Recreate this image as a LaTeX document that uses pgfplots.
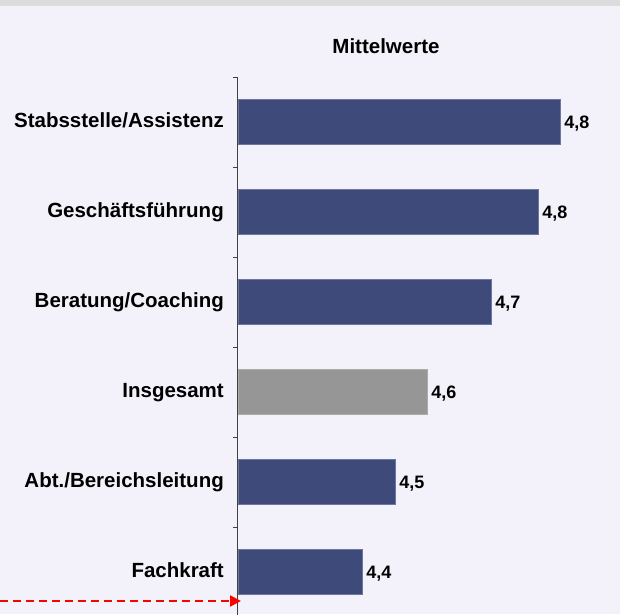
\documentclass[border=0pt]{standalone}
\usepackage{fontspec}
\setmainfont{Liberation Sans}
\usepackage{pgfplots}
\pgfplotsset{compat=1.18}
\usetikzlibrary{arrows.meta}
\definecolor{bg}{HTML}{F3F2FA}
\definecolor{barblue}{HTML}{3D4A7A}
\definecolor{bargray}{HTML}{969696}
\definecolor{band}{HTML}{DCDCDC}
\definecolor{axisgray}{HTML}{404040}

\begin{document}
\begin{tikzpicture}
\fill[bg] (-238pt,3pt) rectangle (382pt,617pt);
\fill[band] (-238pt,611pt) rectangle (382pt,617pt);
\begin{scope}
\clip (-238pt,3pt) rectangle (382pt,617pt);
\begin{axis}[
  at={(0,0)}, anchor=south west,
  scale only axis, width=382pt, height=540pt,
  xmin=4.2, xmax=4.964, ymin=-0.5, ymax=5.5,
  axis x line=none, axis y line*=left,
  axis line style={axisgray, line width=1pt},
  xbar, bar width=0.5, bar shift=0pt,
  ytick={0,...,5},
  yticklabels={Fachkraft, Abt./Bereichsleitung, Insgesamt, Beratung/Coaching, Geschäftsführung, Stabsstelle/Assistenz},
  major tick length=0pt,
  yticklabel style={font=\fontsize{20.5}{24}\selectfont\bfseries, inner sep=0pt, anchor=base east, xshift=-14pt, yshift=-5pt},
  extra y ticks={-0.5,0.5,1.5,2.5,3.5,4.5,5.5},
  extra y tick labels={},
  extra y tick style={major tick length=5pt, tick align=outside, tick style={axisgray, line width=1pt}},
  nodes near coords, point meta=explicit symbolic,
  nodes near coords style={anchor=base west, inner sep=0pt, xshift=4pt, yshift=-6pt, font=\fontsize{18}{21}\selectfont\bfseries, black},
  clip=false,
]
% Bereiche
\addplot[fill=barblue, draw=barblue!75!white, line width=0.6pt]
  coordinates {(4.844,5) [4,8] (4.800,4) [4,8] (4.706,3) [4,7] (4.514,1) [4,5] (4.448,0) [4,4]};
% Insgesamt
\addplot[fill=bargray, draw=bargray!80!white, line width=0.6pt]
  coordinates {(4.578,2) [4,6]};
\end{axis}
\end{scope}
\node[font=\fontsize{20.5}{24}\selectfont\bfseries, anchor=base, inner sep=0pt] at (148pt,563pt) {Mittelwerte};
\draw[red, line width=2pt, dash pattern=on 8pt off 5pt, -{Triangle[length=11pt,width=11pt]}] (-238pt,16pt) -- (3pt,16pt);
\pgfresetboundingbox
\useasboundingbox (-238pt,3pt) rectangle (382pt,617pt);
\end{tikzpicture}
\end{document}
